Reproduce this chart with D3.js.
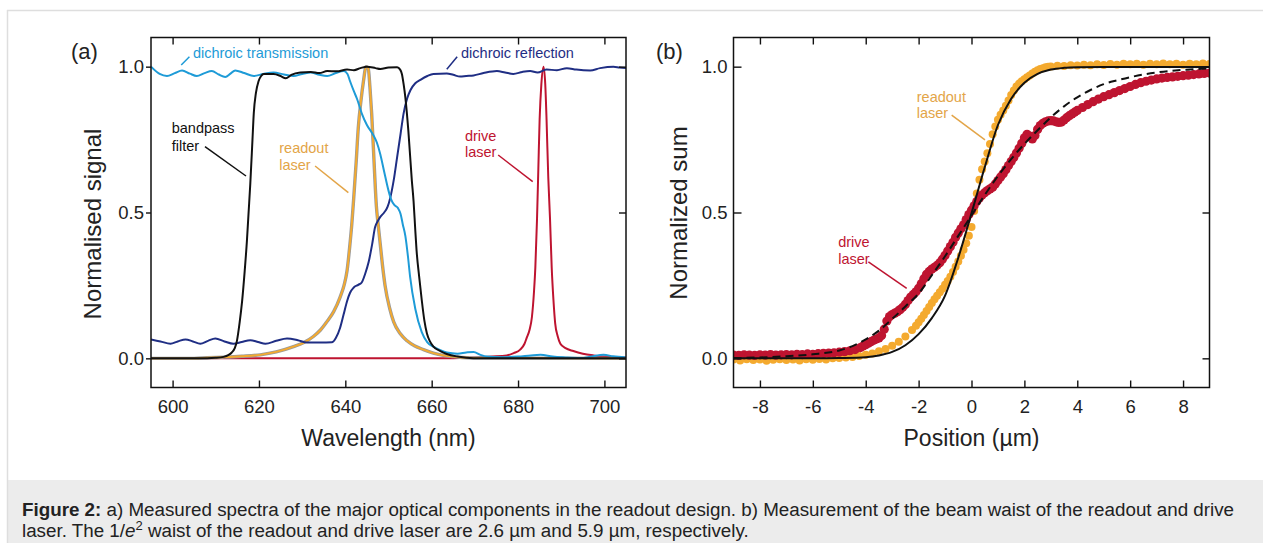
<!DOCTYPE html>
<html><head><meta charset="utf-8">
<script src="https://cdn.jsdelivr.net/npm/d3@7/dist/d3.min.js"></script>
<style>
html,body{margin:0;padding:0;background:#fff;}
svg{display:block;font-family:"Liberation Sans",Arial,Helvetica,sans-serif;}
</style></head>
<body>
<svg id="chart" width="1263" height="543"></svg>
<script>
// ---------- Panel (a) data: wavelength (nm) vs normalised signal ----------
const transX = [595,597,598.7,600.5,602.2,604,605.6,607.4,609.1,610.7,612.2,613.4,614.5,616.6,618.8,621,623.4,625.8,628,630,632,634,635.8,637.8,639.6,640.5,641.1,642,642.7,643.8,645,646.5,647.3,648.1,649,650,650.6,651.4,652.2,652.8,653.3,653.9,654.5,655,656.2,657.7,659,660.4,662,663.5,666,668,669.7,671.3,672.8,676,680,683,685.2,688,691,694.4,697,699.8,702,705];
const transY = [1.0,0.975,0.968,0.978,0.987,0.976,0.968,0.978,0.985,0.973,0.965,0.976,0.987,0.978,0.968,0.975,0.98,0.973,0.968,0.975,0.98,0.972,0.968,0.978,0.985,0.975,0.95,0.915,0.89,0.84,0.80,0.765,0.74,0.70,0.64,0.575,0.545,0.525,0.515,0.495,0.46,0.42,0.35,0.28,0.17,0.09,0.055,0.04,0.028,0.02,0.016,0.02,0.022,0.012,0.006,0.004,0.006,0.01,0.012,0.006,0.003,0.001,0.006,0.012,0.007,0.003];

const reflX = [595,597.2,599.5,601.2,603,604.7,606.4,608.2,609.9,612,614.1,616,618,619.8,621.5,624,626.5,629,631.1,634.2,636.9,637.8,638.8,639.6,640.4,641.1,641.9,643,643.8,644.6,645.4,646.2,646.9,647.5,648.1,649,649.8,650.4,651.2,652,652.8,653.5,654.3,655.1,656.2,657.4,659,660.4,663.5,665,666.6,668,669.7,672,675.1,677,678.9,681,682.8,684.5,686.6,689,691.3,693.5,696.7,699,702.1,703.5,705];
const reflY = [0.065,0.058,0.05,0.058,0.065,0.058,0.05,0.06,0.068,0.058,0.05,0.056,0.062,0.056,0.05,0.06,0.068,0.062,0.054,0.054,0.055,0.07,0.105,0.15,0.196,0.225,0.242,0.252,0.26,0.29,0.33,0.39,0.45,0.47,0.485,0.5,0.52,0.55,0.61,0.69,0.77,0.84,0.89,0.92,0.943,0.955,0.968,0.975,0.977,0.972,0.966,0.968,0.97,0.978,0.985,0.98,0.975,0.982,0.985,0.98,0.99,0.988,0.995,0.99,0.987,0.995,1.0,0.997,0.995];

const bandX = [595,606,610,611.8,613,613.7,614.4,614.9,615.5,616.1,616.7,617.2,617.6,618,618.5,618.8,619.3,619.9,620.5,621.1,623.4,625,626.2,627.5,629.6,632,634,635.8,638,640.4,642,643.5,645,647,648.1,650,652,652.7,653.1,653.5,653.9,654.6,655.4,655.8,656.2,656.5,657.1,657.7,658.3,658.9,659.6,660.4,662,663.5,666,669.7,705];
const bandY = [0,0,0.002,0.005,0.012,0.02,0.035,0.06,0.12,0.196,0.30,0.40,0.5,0.6,0.75,0.84,0.91,0.95,0.968,0.975,0.975,0.968,0.96,0.972,0.98,0.982,0.978,0.985,0.984,0.99,0.988,0.995,1.0,0.995,0.992,0.997,0.998,0.99,0.975,0.94,0.895,0.78,0.61,0.54,0.44,0.37,0.28,0.2,0.13,0.085,0.058,0.04,0.025,0.015,0.006,0,0];

const readX = [595,605,608,612,616,620.3,624,628,630.5,632.6,634.3,635.7,637.3,638.8,639.7,640.4,641,641.5,641.9,642.5,643,643.6,644.2,644.8,645.3,645.7,646.1,646.7,647.2,647.6,648.1,648.6,649.2,650.3,651.2,652.7,654.3,656,658.1,660.4,662.7,665,667,672,705];
const readY = [0,0,0.002,0.004,0.007,0.012,0.022,0.04,0.055,0.075,0.098,0.125,0.16,0.21,0.25,0.30,0.38,0.46,0.54,0.67,0.79,0.88,0.95,1.0,0.995,0.93,0.84,0.66,0.52,0.46,0.39,0.32,0.25,0.17,0.125,0.085,0.06,0.043,0.03,0.018,0.01,0.006,0.003,0.001,0];

const driveX = [595,660,670,674,677.4,679,680.5,681.5,682,682.7,683.2,683.7,684,684.4,684.7,685,685.4,685.9,686.3,686.6,687,687.4,687.8,688.2,688.6,689.2,689.8,691,692.8,695,697.5,700,705];
const driveY = [0,0,0.003,0.006,0.01,0.018,0.03,0.05,0.07,0.1,0.14,0.23,0.31,0.48,0.65,0.82,0.94,1.0,0.94,0.82,0.62,0.48,0.31,0.2,0.12,0.075,0.05,0.035,0.025,0.016,0.01,0.006,0.003];

const ticksA_x = [600,620,640,660,680,700];
const ticksY = [0.0,0.5,1.0];

// ---------- Panel (b) data: position (µm) vs normalized sum ----------
const readoutPts = [[-9,-0.004],[-8.75,-0.007],[-8.5,-0.003],[-8.25,-0.006],[-8,-0.004],[-7.75,-0.008],[-7.5,-0.005],[-7.25,-0.003],[-7,-0.006],[-6.75,-0.004],[-6.5,-0.007],[-6.25,-0.003],[-6,-0.005],[-5.75,-0.002],[-5.5,-0.004],[-5.25,0.0],[-5,0.001],[-4.75,0.003],[-4.5,0.005],[-4.25,0.008],[-4,0.012],[-3.75,0.017],[-3.5,0.024],[-3.25,0.032],[-3,0.043],[-2.75,0.057],[-2.5,0.075],[-2.25,0.097],
[-2.1,0.112],[-2,0.124],[-1.9,0.136],[-1.8,0.149],[-1.7,0.162],[-1.6,0.176],[-1.5,0.19],[-1.4,0.203],[-1.3,0.215],[-1.2,0.227],[-1.1,0.239],[-1,0.252],[-0.9,0.265],[-0.8,0.28],[-0.7,0.296],[-0.6,0.314],[-0.5,0.332],[-0.4,0.352],[-0.3,0.372],[-0.2,0.395],[-0.1,0.42],[0,0.45],[0.1,0.505],[0.2,0.565],[0.3,0.612],[0.4,0.648],[0.5,0.675],[0.6,0.703],[0.7,0.735],[0.8,0.768],[0.9,0.795],[1,0.818],[1.1,0.835],[1.2,0.85],[1.3,0.866],[1.4,0.884],[1.5,0.903],[1.6,0.918],[1.7,0.932],[1.8,0.942],[1.9,0.95],[2,0.957],[2.1,0.964],[2.2,0.97],[2.3,0.977],[2.4,0.983],[2.5,0.988],[2.6,0.992],[2.7,0.995],[2.8,0.998],[2.9,1.0],[3,1.001],
[3.25,1.003],[3.5,1.002],[3.75,1.005],[4,1.004],[4.25,1.007],[4.5,1.005],[4.75,1.008],[5,1.006],[5.25,1.009],[5.5,1.007],[5.75,1.01],[6,1.008],[6.25,1.01],[6.5,1.007],[6.75,1.01],[7,1.008],[7.25,1.011],[7.5,1.008],[7.75,1.01],[8,1.007],[8.25,1.01],[8.5,1.008],[8.75,1.011],[9,1.009]];

const drivePts = [[-9,0.011],[-8.8,0.01],[-8.6,0.012],[-8.4,0.011],[-8.2,0.01],[-8,0.012],[-7.8,0.011],[-7.6,0.013],[-7.4,0.011],[-7.2,0.012],[-7,0.013],[-6.8,0.012],[-6.6,0.014],[-6.4,0.013],[-6.2,0.015],[-6,0.014],[-5.8,0.016],[-5.6,0.017],[-5.4,0.018],[-5.2,0.019],[-5,0.021],[-4.8,0.023],[-4.6,0.026],[-4.4,0.03],[-4.2,0.037],
[-4.1,0.042],[-4,0.047],[-3.9,0.052],[-3.8,0.057],[-3.7,0.062],[-3.6,0.066],[-3.5,0.07],[-3.4,0.078],[-3.3,0.1],[-3.2,0.128],[-3.1,0.143],[-3,0.15],[-2.9,0.155],[-2.8,0.16],[-2.7,0.167],[-2.6,0.175],[-2.5,0.185],[-2.4,0.198],[-2.3,0.21],[-2.2,0.219],[-2.1,0.228],[-2,0.24],[-1.9,0.256],[-1.8,0.273],[-1.7,0.288],[-1.6,0.298],[-1.5,0.306],[-1.4,0.312],[-1.3,0.319],[-1.2,0.328],[-1.1,0.34],[-1,0.353],[-0.9,0.368],[-0.8,0.383],[-0.7,0.398],[-0.6,0.415],[-0.5,0.43],[-0.4,0.444],[-0.3,0.458],[-0.2,0.476],[-0.1,0.493],[0,0.508],[0.1,0.523],[0.2,0.538],[0.3,0.55],[0.4,0.56],[0.5,0.568],[0.6,0.575],[0.7,0.581],[0.8,0.587],[0.9,0.598],[1,0.61],[1.1,0.622],[1.2,0.633],[1.3,0.647],[1.4,0.661],[1.5,0.675],[1.6,0.689],[1.7,0.704],[1.8,0.72],[1.9,0.737],[2,0.756],[2.1,0.768],[2.2,0.762],[2.3,0.752],[2.4,0.764],[2.5,0.785],[2.6,0.798],[2.7,0.806],[2.8,0.811],[2.9,0.814],[3,0.815],[3.1,0.814],[3.2,0.811],[3.3,0.809],[3.4,0.81],[3.5,0.817],[3.6,0.825],[3.7,0.832],[3.8,0.838],[3.9,0.844],[4,0.85],
[4.2,0.86],[4.4,0.87],[4.6,0.88],[4.8,0.889],[5,0.897],[5.2,0.904],[5.4,0.911],[5.6,0.918],[5.8,0.925],[6,0.932],[6.2,0.939],[6.4,0.945],[6.6,0.95],[6.8,0.954],[7,0.958],[7.2,0.961],[7.4,0.963],[7.6,0.965],[7.8,0.967],[8,0.969],[8.2,0.971],[8.4,0.973],[8.6,0.975],[8.8,0.977],[9,0.978]];

const readoutFit = [[-9,0],[-6,0],[-5,0.001],[-4,0.004],[-3.5,0.01],[-3,0.022],[-2.5,0.045],[-2,0.083],[-1.5,0.138],[-1,0.215],[-0.5,0.345],[0,0.497],[0.5,0.655],[1,0.8],[1.5,0.89],[2,0.945],[2.5,0.975],[3,0.99],[3.5,0.996],[4,0.998],[5,0.999],[9,0.999]];
const driveFit = [[-9,0.001],[-8,0.003],[-7,0.007],[-6,0.014],[-5,0.027],[-4.5,0.042],[-4,0.065],[-3.5,0.095],[-3,0.135],[-2.5,0.178],[-2,0.222],[-1.5,0.285],[-1,0.35],[-0.5,0.42],[0,0.49],[0.5,0.56],[1,0.625],[1.5,0.683],[2,0.735],[2.5,0.782],[3,0.826],[3.5,0.864],[4,0.895],[4.5,0.92],[5,0.94],[5.5,0.953],[6,0.964],[7,0.98],[8,0.989],[9,0.994]];

const ticksB_x = [-8,-6,-4,-2,0,2,4,6,8];

// ---------- colours ----------
const C = {trans:"#1e9bd7", refl:"#1f2e84", band:"#111111", read:"#f4aa2f", readTxt:"#e3a548", drive:"#be1430", grey:"#9a9a9a"};

const svg = d3.select("#chart");
const FONT = '"Liberation Sans",Arial,Helvetica,sans-serif';

// frame + caption background
svg.append("rect").attr("x",7).attr("y",480).attr("width",1256).attr("height",63).attr("fill","#ececec");
svg.append("line").attr("x1",7).attr("x2",1263).attr("y1",10.5).attr("y2",10.5).attr("stroke","#dedede").attr("stroke-width",1.5);
svg.append("line").attr("x1",7.5).attr("x2",7.5).attr("y1",10).attr("y2",543).attr("stroke","#dedede").attr("stroke-width",1.5);

// ---------- scales ----------
const xA = d3.scaleLinear().domain([595,705]).range([151,626]);
const xB = d3.scaleLinear().domain([-9,9]).range([733.5,1209.5]);
const yS = d3.scaleLinear().domain([-0.1,1.1]).range([387.5,37.5]);
const intFmt = d => String(d);   // plain hyphen-minus like the original

function frame(g, x, ticks, leftOut){
  const [x0,x1] = x.range(), [y1,y0] = yS.range();
  const ab = g.append("g").attr("transform",`translate(0,${y1})`).call(d3.axisBottom(x).tickValues(ticks).tickSizeInner(-7).tickSizeOuter(0).tickPadding(12.5).tickFormat(intFmt));
  const at = g.append("g").attr("transform",`translate(0,${y0})`).call(d3.axisTop(x).tickValues(ticks).tickSizeInner(-7).tickSizeOuter(0).tickFormat(""));
  const al = g.append("g").attr("transform",`translate(${x0},0)`).call(d3.axisLeft(yS).tickValues(ticksY).tickSizeInner(leftOut?5:-8).tickSizeOuter(0).tickPadding(leftOut?2:6).tickFormat(d3.format(".1f")));
  const ar = g.append("g").attr("transform",`translate(${x1},0)`).call(d3.axisRight(yS).tickValues(ticksY).tickSizeInner(-7).tickSizeOuter(0).tickFormat(""));
  [ab,at,al,ar].forEach(a=>{
    a.select(".domain").remove();
    a.selectAll("line").attr("stroke","#111").attr("stroke-width",1.4);
    a.selectAll("text").attr("font-family",FONT).attr("font-size",18.5).attr("fill","#222");
  });
  g.append("rect").attr("x",x0).attr("y",y0).attr("width",x1-x0).attr("height",y1-y0)
    .attr("fill","none").attr("stroke","#111").attr("stroke-width",1.5);
}

// ---------- Panel (a) ----------
const gA = svg.append("g");
svg.append("clipPath").attr("id","clipA").append("rect").attr("x",151).attr("y",37.5).attr("width",475).attr("height",350);
const plotA = gA.append("g").attr("clip-path","url(#clipA)");
const lineA = (X,Y)=>d3.line().x((d,i)=>xA(X[i])).y((d,i)=>yS(Y[i])).curve(d3.curveMonotoneX)(X);

plotA.append("path").attr("d",lineA(driveX,driveY)).attr("fill","none").attr("stroke",C.drive).attr("stroke-width",2);
plotA.append("path").attr("d",lineA(readX,readY)).attr("fill","none").attr("stroke",C.grey).attr("stroke-width",3.4);
plotA.append("path").attr("d",lineA(readX,readY)).attr("fill","none").attr("stroke",C.read).attr("stroke-width",1.9);
plotA.append("path").attr("d",lineA(reflX,reflY)).attr("fill","none").attr("stroke",C.refl).attr("stroke-width",2);
plotA.append("path").attr("d",lineA(transX,transY)).attr("fill","none").attr("stroke",C.trans).attr("stroke-width",2);
plotA.append("path").attr("d",lineA(bandX,bandY)).attr("fill","none").attr("stroke",C.band).attr("stroke-width",2);

frame(gA, xA, ticksA_x, true);

// ---------- Panel (b) ----------
const gB = svg.append("g");
svg.append("clipPath").attr("id","clipB").append("rect").attr("x",733.5).attr("y",37.5).attr("width",476).attr("height",350);
const plotB = gB.append("g").attr("clip-path","url(#clipB)");
plotB.append("g").selectAll("circle").data(readoutPts).join("circle")
  .attr("cx",d=>xB(d[0])).attr("cy",d=>yS(d[1])).attr("r",4).attr("fill",C.read);
plotB.append("g").selectAll("circle").data(drivePts).join("circle")
  .attr("cx",d=>xB(d[0])).attr("cy",d=>yS(d[1])).attr("r",4.6).attr("fill",C.drive);
const lineB = d3.line().x(d=>xB(d[0])).y(d=>yS(d[1])).curve(d3.curveMonotoneX);
plotB.append("path").attr("d",lineB(readoutFit)).attr("fill","none").attr("stroke","#111").attr("stroke-width",2);
plotB.append("path").attr("d",lineB(driveFit)).attr("fill","none").attr("stroke","#111").attr("stroke-width",2).attr("stroke-dasharray","8,5");

frame(gB, xB, ticksB_x, false);

// ---------- annotations (anchored in data units) ----------
function label(x, lines, pos, col){
  const t = svg.append("text").attr("font-family",FONT).attr("font-size",14.5).attr("fill",col);
  lines.forEach((s,i)=>t.append("tspan").attr("x",x(pos[0])).attr("y",yS(pos[1][i])).text(s));
}
function leader(x, a, b, col){
  svg.append("line").attr("x1",x(a[0])).attr("y1",yS(a[1])).attr("x2",x(b[0])).attr("y2",yS(b[1]))
    .attr("stroke",col).attr("stroke-width",1.5);
}
label(xA,["dichroic transmission"],[604.7,[1.03]],C.trans);   leader(xA,[602,1.006],[603.9,1.034],C.trans);
label(xA,["dichroic reflection"],[666.8,[1.03]],C.refl);      leader(xA,[663.5,0.991],[665.9,1.034],C.refl);
label(xA,["bandpass","filter"],[599.8,[0.7726,0.7119]],"#111"); leader(xA,[607.5,0.7256],[617.0,0.6251],"#111");
label(xA,["readout","laser"],[624.7,[0.705,0.6457]],C.readTxt); leader(xA,[633.0,0.6594],[640.7,0.5679],C.readTxt);
label(xA,["drive","laser"],[667.7,[0.7462,0.6893]],C.drive);   leader(xA,[675.4,0.6971],[683.4,0.6056],C.drive);
label(xB,["readout","laser"],[-2.07,[0.88,0.823]],C.readTxt);   leader(xB,[-0.75,0.834],[0.51,0.749],C.readTxt);
label(xB,["drive","laser"],[-5.04,[0.3827,0.3234]],C.drive);    leader(xB,[-3.9,0.331],[-2.45,0.240],C.drive);

// panel letters and axis titles
svg.append("text").attr("x",71).attr("y",59).attr("font-family",FONT).attr("font-size",22).attr("fill","#222").text("(a)");
svg.append("text").attr("x",656).attr("y",59).attr("font-family",FONT).attr("font-size",22).attr("fill","#222").text("(b)");
svg.append("text").attr("transform",`translate(100.5,224) rotate(-90)`).attr("text-anchor","middle").attr("font-family",FONT).attr("font-size",24).attr("fill","#222").text("Normalised signal");
svg.append("text").attr("transform",`translate(687,213) rotate(-90)`).attr("text-anchor","middle").attr("font-family",FONT).attr("font-size",24).attr("fill","#222").text("Normalized sum");
svg.append("text").attr("x",388.5).attr("y",446).attr("text-anchor","middle").attr("font-family",FONT).attr("font-size",23).attr("fill","#222").text("Wavelength (nm)");
svg.append("text").attr("x",971.5).attr("y",446).attr("text-anchor","middle").attr("font-family",FONT).attr("font-size",23).attr("fill","#222").text("Position (µm)");

// caption
const cap1 = svg.append("text").attr("x",22).attr("y",516).attr("font-family",FONT).attr("font-size",18.8).attr("fill","#222");
cap1.append("tspan").attr("font-weight","bold").text("Figure 2:");
cap1.append("tspan").text(" a) Measured spectra of the major optical components in the readout design. b) Measurement of the beam waist of the readout and drive");
const cap2 = svg.append("text").attr("x",22).attr("y",537).attr("font-family",FONT).attr("font-size",18.8).attr("fill","#222");
cap2.append("tspan").text("laser. The 1/");
cap2.append("tspan").attr("font-style","italic").text("e");
cap2.append("tspan").attr("font-size",13).attr("dy",-7).text("2");
cap2.append("tspan").attr("dy",7).text(" waist of the readout and drive laser are 2.6 µm and 5.9 µm, respectively.");
</script>
</body></html>
